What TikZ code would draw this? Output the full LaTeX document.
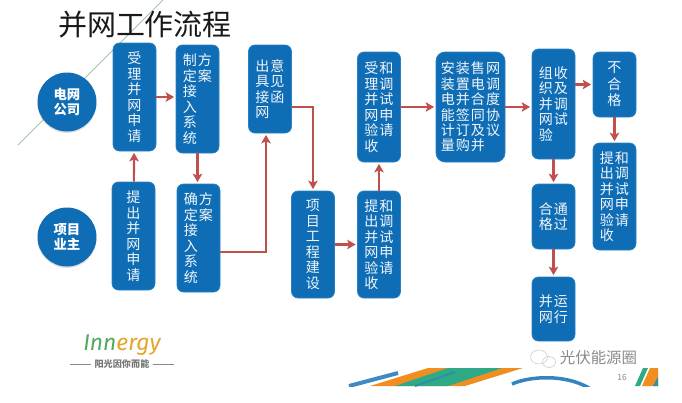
\documentclass[tikz,border=0pt]{standalone}
\usepackage{xcolor}
\usepackage{fontspec}
\usetikzlibrary{arrows.meta,shadows}
\setmainfont{Noto Sans CJK SC}
\newfontfamily\boxfont[LetterSpace=7]{Noto Sans CJK SC}
\newfontfamily\logofont{Fira Sans}
\definecolor{flowBlue}{HTML}{0F6DB5}
\definecolor{flowEdge}{HTML}{2A80C2}
\definecolor{flowRed}{HTML}{C0504D}
\definecolor{flowOrange}{HTML}{F18E22}
\definecolor{flowGreen}{HTML}{2FAA86}
\definecolor{flowTeal}{HTML}{2E8FA8}
\definecolor{lineGreen}{HTML}{A3C4AE}
\definecolor{markGray}{HTML}{8A8A8A}
\definecolor{logoGreen}{HTML}{4FA95F}
\definecolor{logoOrange}{HTML}{E6A52A}
\tikzset{
  flowbox/.style={draw=flowEdge, fill=flowBlue, rounded corners=0.13cm, minimum width=0.86cm,
    inner sep=0pt, align=left, text=white!94!flowBlue,
    font={\boxfont\fontsize{8}{8.8}\selectfont}},
  rolecircle/.style={circle, fill=flowBlue, minimum size=1.18cm, inner sep=0pt, align=center,
    text=white, drop shadow={shadow xshift=0pt, shadow yshift=-0.03cm, opacity=0.25},
    font={\bfseries\fontsize{7.6}{8.9}\selectfont}},
  flowarrow/.style={draw=flowRed, line width=0.042cm, shorten >=0.03cm,
    -{Stealth[length=0.17cm, width=0.19cm, inset=0.04cm]}}
}

\begin{document}
\begin{tikzpicture}
  \useasboundingbox (0,0) rectangle (13.64,8.04);

  % decoration behind the slide
  \draw[lineGreen, line width=0.02cm] (0.36,5.14) -- (3.26,8.04);
  \begin{scope}
    \clip (6.9,0.32) rectangle (13.16,0.8);
    \draw[flowBlue!80!white, line width=0.08cm] (6.98,0.32) -- (7.96,0.58);
    \fill[flowOrange] (7.40,0.32) -- (8.56,0.68) -- (10.46,0.68) -- (9.30,0.32) -- cycle;
    \fill[flowGreen] (7.90,0.32) -- (8.96,0.68) -- (10.04,0.68) -- (8.96,0.32) -- cycle;
    \draw[flowTeal, line width=0.04cm] (8.30,0.32) -- (9.10,0.60);
    \draw[flowBlue!85!white, line width=0.07cm] (10.24,0.36) .. controls (10.6,0.52) and (11.3,0.56) .. (11.78,0.28);
    \fill[flowGreen] (12.70,0.32) -- (12.86,0.68) -- (12.96,0.68) -- (12.80,0.32) -- cycle;
    \fill[flowOrange] (12.84,0.32) -- (13.00,0.68) -- (13.16,0.68) -- (13.16,0.32) -- cycle;
    \fill[flowTeal] (13.16,0.50) -- (13.16,0.32) -- (13.06,0.32) -- cycle;
  \end{scope}

  \node[font=\fontsize{16.5}{18}\selectfont, text=black!90] (title) at (2.90,7.54) {并网工作流程};

  \node[rolecircle] (gridco) at (1.34,6.00) {电网\\公司};
  \node[rolecircle] (owner) at (1.34,3.30) {项目\\业主};

  \node[flowbox, minimum height=2.16cm] (accept) at (2.69,6.10) {受\\理\\并\\网\\申\\请};
  \node[flowbox, minimum height=2.16cm] (plan) at (3.95,6.06) {制方\\定案\\接\\入\\系\\统};
  \node[flowbox, minimum height=1.76cm] (reply) at (5.40,6.26) {出意\\具见\\接函\\网};
  \node[flowbox, minimum height=2.16cm] (apply) at (2.67,3.32) {提\\出\\并\\网\\申\\请};
  \node[flowbox, minimum height=2.16cm] (confirm) at (3.97,3.28) {确方\\定案\\接\\入\\系\\统};
  \node[flowbox, minimum height=2.14cm] (build) at (6.26,3.15) {项\\目\\工\\程\\建\\设};
  \node[flowbox, minimum height=2.20cm] (testaccept) at (7.58,5.90) {受和\\理调\\并试\\网申\\验请\\收};
  \node[flowbox, minimum height=2.14cm] (testapply) at (7.58,3.15) {提和\\出调\\并试\\网申\\验请\\收};
  \node[flowbox, minimum height=2.20cm, minimum width=1.38cm, rounded corners=0.18cm] (meter) at (9.41,5.90)
    {安装售网\\装置电调\\电并合度\\能签同协\\计订及议\\量购并};
  \node[flowbox, minimum height=2.20cm] (organize) at (11.07,5.96) {组收\\织及\\并调\\网试\\验};
  \node[flowbox, minimum height=1.30cm, font={\boxfont\fontsize{8}{9.4}\selectfont}] (fail) at (12.29,6.35) {不\\合\\格};
  \node[flowbox, minimum height=2.14cm] (retest) at (12.29,4.11) {提和\\出调\\并试\\网申\\验请\\收};
  \node[flowbox, minimum height=1.30cm] (pass) at (11.07,3.71) {合通\\格过};
  \node[flowbox, minimum height=1.28cm] (run) at (11.07,1.86) {并运\\网行};

  \draw[flowarrow] (apply) -- (accept);
  \draw[flowarrow] (accept.east) -- (accept.east -| plan.west);
  \draw[flowarrow] (plan) -- (plan |- confirm.north);
  \draw[flowarrow] ([yshift=-0.28cm]confirm.east) -| ([xshift=-0.08cm]reply.south);
  \draw[flowarrow] ([yshift=-0.36cm]reply.east) -| (build.north);
  \draw[flowarrow] (build) -- (testapply);
  \draw[flowarrow] (testapply) -- (testaccept);
  \draw[flowarrow] (testaccept) -- (meter);
  \draw[flowarrow] (meter) -- (meter -| organize.west);
  \draw[flowarrow] (fail.west -| organize.east) -- (fail.west);
  \draw[flowarrow] (fail) -- (retest);
  \draw[flowarrow] (organize) -- (pass);
  \draw[flowarrow] (pass) -- (run);

  % logo, watermark, page number
  \node[font={\logofont\itshape\fontsize{13}{14}\selectfont}] (logo) at (2.44,1.13)
    {\textcolor{logoGreen}{Inn}\textcolor{logoOrange}{ergy}};
  \node[inner sep=0pt, text=markGray!85!black, font={\bfseries\fontsize{5.2}{6}\selectfont}] (slogan) at (2.44,0.76) {阳光因你而能};
  \draw[markGray, line width=0.015cm] ([xshift=-0.06cm]slogan.west) -- ++(-0.42,0);
  \draw[markGray, line width=0.015cm] ([xshift=0.06cm]slogan.east) -- ++(0.42,0);

  \draw[black!20, line width=0.012cm] (10.78,0.90) ellipse (0.17 and 0.14);
  \draw[black!20, line width=0.012cm] (10.98,0.80) ellipse (0.13 and 0.11);
  \node[text=markGray, font=\fontsize{8.8}{10}\selectfont] (mark) at (11.97,0.88) {光伏能源圈};
  \node[text=markGray, font=\fontsize{4.8}{6}\selectfont] (page) at (12.44,0.50) {16};
\end{tikzpicture}
\end{document}
